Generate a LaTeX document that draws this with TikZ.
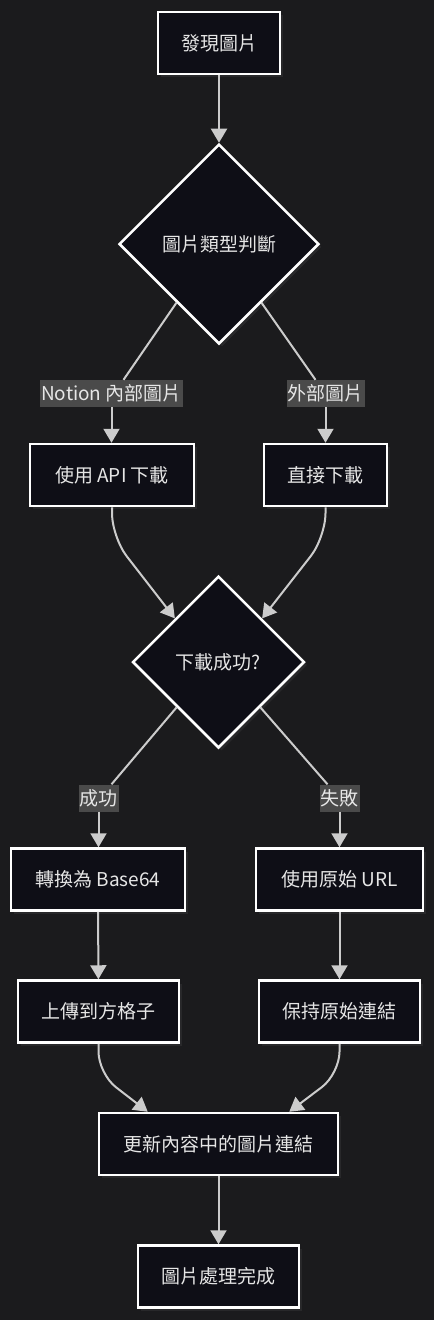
\documentclass[tikz,border=0pt]{standalone}
\usepackage{fontspec}
\setmainfont{Noto Sans CJK TC}
\usetikzlibrary{shapes.geometric}
\usetikzlibrary{arrows.meta}
\usetikzlibrary{shadows}
\usetikzlibrary{calc}
\definecolor{bgc}{HTML}{1B1B1D}
\definecolor{nodefill}{HTML}{0E0E16}
\definecolor{linec}{HTML}{CCCCCC}
\definecolor{tagfill}{HTML}{4A4A4A}
\definecolor{textc}{HTML}{E6E6E6}
\tikzstyle{block} = [draw=white, line width=2.5pt, rectangle, fill=nodefill,
                     text=textc, minimum height=62pt, inner sep=0pt,
                     drop shadow={shadow xshift=3pt, shadow yshift=-3pt,
                                  fill=white, opacity=0.06}]
\tikzstyle{decide} = [block, diamond, aspect=1]
\tikzstyle{tag} = [fill=tagfill, text=textc, inner xsep=1pt, inner ysep=0pt,
                   minimum height=27pt]
\tikzstyle{line} = [draw=linec, line width=2pt]
\tikzstyle{arrow} = [line, -{Triangle[width=16pt, length=14pt]}]

\begin{document}
\begin{tikzpicture}[x=1pt, y=-1pt, font=\fontsize{19pt}{23pt}\selectfont]

% background
\fill[bgc] (0,0) rectangle (434,1320);

% add nodes
\node[block, minimum width=122pt] (find) at (219,43) {發現圖片};
\node[decide, minimum size=200pt] (kind) at (219,244) {圖片類型判斷};
\node[tag] (inner) at (111.5,393.5) {Notion 內部圖片};
\node[tag] (outer) at (325.5,393.5) {外部圖片};
\node[block, minimum width=164pt] (api) at (112,475) {使用 API 下載};
\node[block, minimum width=123pt] (direct) at (325.5,475) {直接下載};
\node[decide, minimum size=172pt] (ok) at (218.5,662) {下載成功?};
\node[tag] (yes) at (98.5,798) {成功};
\node[tag] (no) at (339.5,798) {失敗};
\node[block, minimum width=174pt] (base) at (98,879.5) {轉換為 Base64};
\node[block, minimum width=167pt] (url) at (339.5,879.5) {使用原始 URL};
\node[block, minimum width=161pt] (upload) at (98.5,1011.5) {上傳到方格子};
\node[block, minimum width=161pt] (keep) at (339.5,1011.5) {保持原始連結};
\node[block, minimum width=239pt] (update) at (218.5,1144) {更新內容中的圖片連結};
\node[block, minimum width=161pt] (done) at (218.5,1276.5) {圖片處理完成};

% add connections
\draw[arrow] (find) -- (kind);
\draw[line] ($(kind.west)!0.58!(kind.south)$) -- ($(inner.north)+(12,0)$);
\draw[line] ($(kind.east)!0.58!(kind.south)$) -- ($(outer.north)+(-10,0)$);
\draw[arrow] (inner.south) -- (inner.south |- api.north);
\draw[arrow] (outer.south) -- (outer.south |- direct.north);
\draw[arrow, rounded corners=24pt] (api.south) -- ++(0,30)
  -- ($(ok.west)!0.5!(ok.north)$);
\draw[arrow, rounded corners=24pt] (direct.south) -- ++(0,30)
  -- ($(ok.east)!0.5!(ok.north)$);
\draw[line] ($(ok.west)!0.52!(ok.south)$) -- ($(yes.north)+(13,0)$);
\draw[line] ($(ok.east)!0.52!(ok.south)$) -- ($(no.north)+(-12,0)$);
\draw[arrow] (yes.south) -- (yes.south |- base.north);
\draw[arrow] (no.south) -- (no.south |- url.north);
\draw[arrow] (base) -- (upload);
\draw[arrow] (url) -- (keep);
\draw[arrow, rounded corners=22pt] (upload.south) -- ++(0,30)
  -- ($(update.north west)+(50,0)$);
\draw[arrow, rounded corners=22pt] (keep.south) -- ++(0,30)
  -- ($(update.north east)+(-50,0)$);
\draw[arrow] (update) -- (done);

\end{tikzpicture}
\end{document}
